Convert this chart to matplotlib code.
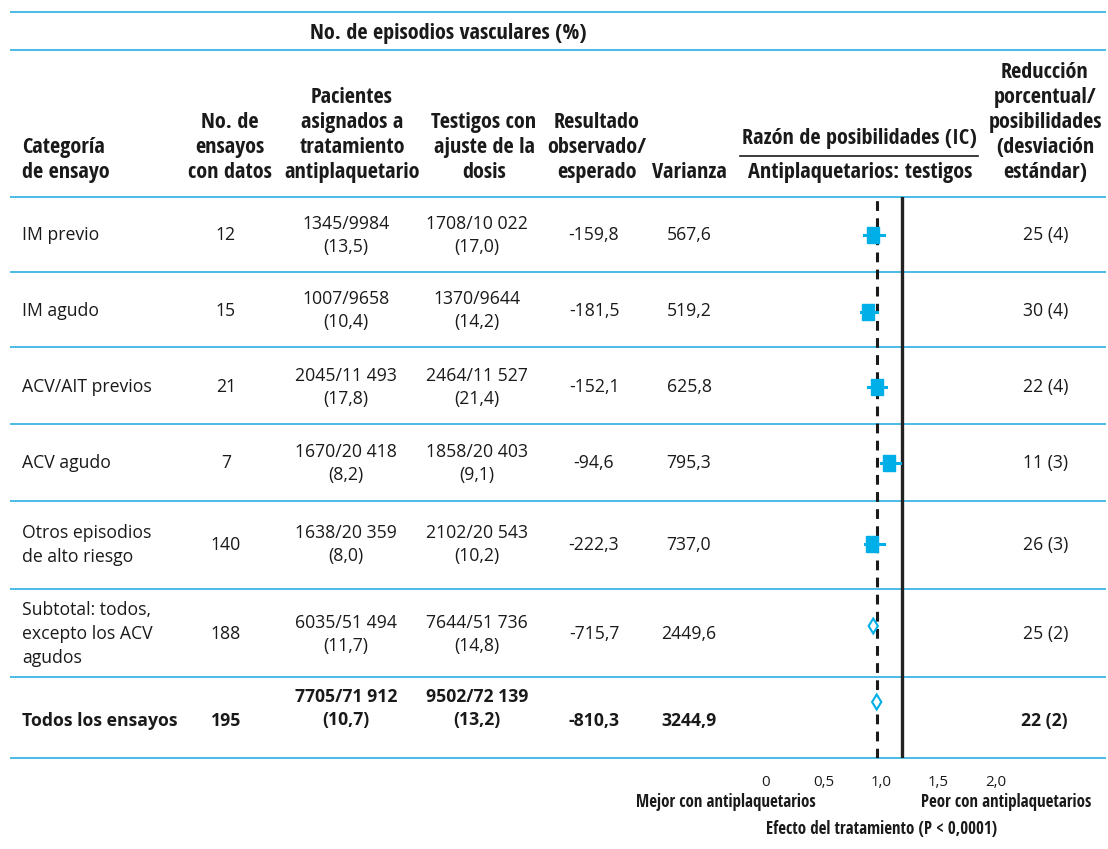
import matplotlib
matplotlib.use("Agg")
import matplotlib.pyplot as plt
import matplotlib.transforms as mtransforms

# trial categories and their results
categories = ["IM previo", "IM agudo", "ACV/AIT previos", "ACV agudo",
              "Otros episodios\nde alto riesgo",
              "Subtotal: todos,\nexcepto los ACV\nagudos",
              "Todos los ensayos"]
n_trials = [12, 15, 21, 7, 140, 188, 195]
ev_treat = [1345, 1007, 2045, 1670, 1638, 6035, 7705]
n_treat = [9984, 9658, 11493, 20418, 20359, 51494, 71912]
pct_treat = [13.5, 10.4, 17.8, 8.2, 8.0, 11.7, 10.7]
ev_ctrl = [1708, 1370, 2464, 1858, 2102, 7644, 9502]
n_ctrl = [10022, 9644, 11527, 20403, 20543, 51736, 72139]
pct_ctrl = [17.0, 14.2, 21.4, 9.1, 10.2, 14.8, 13.2]
obs_exp = [-159.8, -181.5, -152.1, -94.6, -222.3, -715.7, -810.3]
variance = [567.6, 519.2, 625.8, 795.3, 737.0, 2449.6, 3244.9]
reduction = [25, 30, 22, 11, 26, 25, 22]
red_sd = [4, 4, 4, 3, 3, 2, 2]

# odds ratios with confidence limits
odds = [0.75, 0.70, 0.78, 0.89, 0.74, 0.75, 0.78]
ci_lo = [0.67, 0.64, 0.70, 0.82, 0.68, 0.71, 0.74]
ci_hi = [0.84, 0.78, 0.86, 0.98, 0.84, 0.79, 0.82]
is_summary = [False, False, False, False, False, True, True]

xticks = [0, 0.5, 1.0, 1.5, 2.0]

BLUE = "#00aee8"
RULE = "#4bbbe6"
INK = "#1a1a1a"
COND = ["Open Sans Condensed", "DejaVu Sans"]
BODY = ["Open Sans", "DejaVu Sans"]


def num(n):
    return f"{n:,}".replace(",", " ") if n >= 10000 else str(n)


def dec(v):
    return f"{v:.1f}".replace(".", ",")


fig = plt.figure(figsize=(11.08, 8.49), dpi=100)
bg = fig.add_axes([0, 0, 1, 1])
bg.set_xlim(0, 1108)
bg.set_ylim(849, 0)
bg.axis("off")


def lines_at(x, y_bottom, text, step=25, **kw):
    # stack lines upward from the bottom one
    parts = text.split("\n")
    for i, p in enumerate(reversed(parts)):
        bg.text(x, y_bottom - i * step, p, va="center", **kw)


def block(x, y_mid, text, step=24, **kw):
    parts = text.split("\n")
    y0 = y_mid - (len(parts) - 1) * step / 2
    for i, p in enumerate(parts):
        bg.text(x, y0 + i * step, p, va="center", **kw)


# rules
for y in [12, 50, 197, 272, 347, 424, 501, 589, 677, 758]:
    bg.plot([10, 1106], [y, y], color=RULE, lw=1.4, solid_capstyle="butt")

# header
hkw = dict(family=COND, fontsize=16, fontweight="bold", color=INK)
bg.text(448, 33, "No. de episodios vasculares (%)", ha="center", va="center", **hkw)
lines_at(22, 172, "Categoría\nde ensayo", ha="left", **hkw)
lines_at(230, 172, "No. de\nensayos\ncon datos", ha="center", **hkw)
lines_at(352, 172, "Pacientes\nasignados a\ntratamiento\nantiplaquetario", ha="center", **hkw)
lines_at(484, 172, "Testigos con\najuste de la\ndosis", ha="center", **hkw)
lines_at(597, 172, "Resultado\nobservado/\nesperado", ha="center", **hkw)
lines_at(689, 172, "Varianza", ha="center", **hkw)
bg.text(859, 138, "Razón de posibilidades (IC)", ha="center", va="center", **hkw)
bg.plot([740, 978], [156, 156], color=INK, lw=1.2)
bg.text(860, 172, "Antiplaquetarios: testigos", ha="center", va="center", **hkw)
lines_at(1045, 172, "Reducción\nporcentual/\nposibilidades\n(desviación\nestándar)", ha="center", **hkw)

# table body
row_y = [235, 311, 387, 463, 545, 634, 717]
for i, cat in enumerate(categories):
    last = i == len(categories) - 1
    kw = dict(family=BODY, fontsize=12.7, color=INK,
              fontweight="bold" if last else "normal")
    y = row_y[i]
    single_y = y + 4 if last else y
    pair_y = y - 8 if last else y
    block(22, single_y, cat, ha="left", **kw)
    bg.text(226, single_y, str(n_trials[i]), ha="center", va="center", **kw)
    block(346, pair_y, f"{ev_treat[i]}/{num(n_treat[i])}\n({dec(pct_treat[i])})",
          step=23, ha="center", **kw)
    block(477, pair_y, f"{ev_ctrl[i]}/{num(n_ctrl[i])}\n({dec(pct_ctrl[i])})",
          step=23, ha="center", **kw)
    bg.text(594, single_y, dec(obs_exp[i]), ha="center", va="center", **kw)
    bg.text(689, single_y, dec(variance[i]), ha="center", va="center", **kw)
    bg.text(1068, single_y, f"{reduction[i]} ({red_sd[i]})", ha="right", va="center", **kw)

# forest plot: 1 unit of odds ratio = 115 px, null line at x = 902 px
left_px, right_px, top_px, bot_px = 740, 1040, 197, 758
ax = fig.add_axes([left_px / 1108, 1 - bot_px / 849,
                   (right_px - left_px) / 1108, (bot_px - top_px) / 849])
ax.set_xlim(1 - (902 - left_px) / 115, 1 + (right_px - 902) / 115)
ax.set_ylim(bot_px, top_px)
ax.patch.set_alpha(0)
for s in ax.spines.values():
    s.set_visible(False)
ax.set_yticks([])

ax.axvline(1.0, color="#222222", lw=2.4, zorder=2)
ax.axvline(odds[-1], color=INK, lw=2.2, ls=(0, (3.2, 2.4)), zorder=2)

mark_y = [235, 312, 387, 463, 544, 626, 702]
box = [(-0.68, -1), (0.68, -1), (0.68, 1), (-0.68, 1), (-0.68, -1)]
for i in range(len(odds)):
    y = mark_y[i]
    if is_summary[i]:
        ax.fill([ci_lo[i], odds[i], ci_hi[i], odds[i]], [y, y - 7.5, y, y + 7.5],
                facecolor="white", edgecolor=BLUE, lw=1.5, zorder=4)
    else:
        ax.plot([ci_lo[i], ci_hi[i]], [y, y], color=BLUE, lw=2.2, zorder=3)
        ax.plot(odds[i], y, marker=box, ms=11.8, color=BLUE, mec=BLUE, zorder=4)

ax.set_xticks(xticks)
ax.set_xticklabels([dec(t) if t else "0" for t in xticks], family=BODY,
                   fontsize=10.8, color=INK)
ax.tick_params(axis="x", length=0, pad=12)
shift = mtransforms.ScaledTranslation(-0.21, 0, fig.dpi_scale_trans)
for lab in ax.get_xticklabels():
    lab.set_transform(lab.get_transform() + shift)

fkw = dict(family=COND, fontsize=12.2, fontweight="bold", color=INK,
           va="center", ha="center")
bg.text(726, 802, "Mejor con antiplaquetarios", **fkw)
bg.text(1006, 802, "Peor con antiplaquetarios", **fkw)
bg.text(882, 829, "Efecto del tratamiento (P < 0,0001)", **fkw)

fig.savefig("out.png", dpi=100)
